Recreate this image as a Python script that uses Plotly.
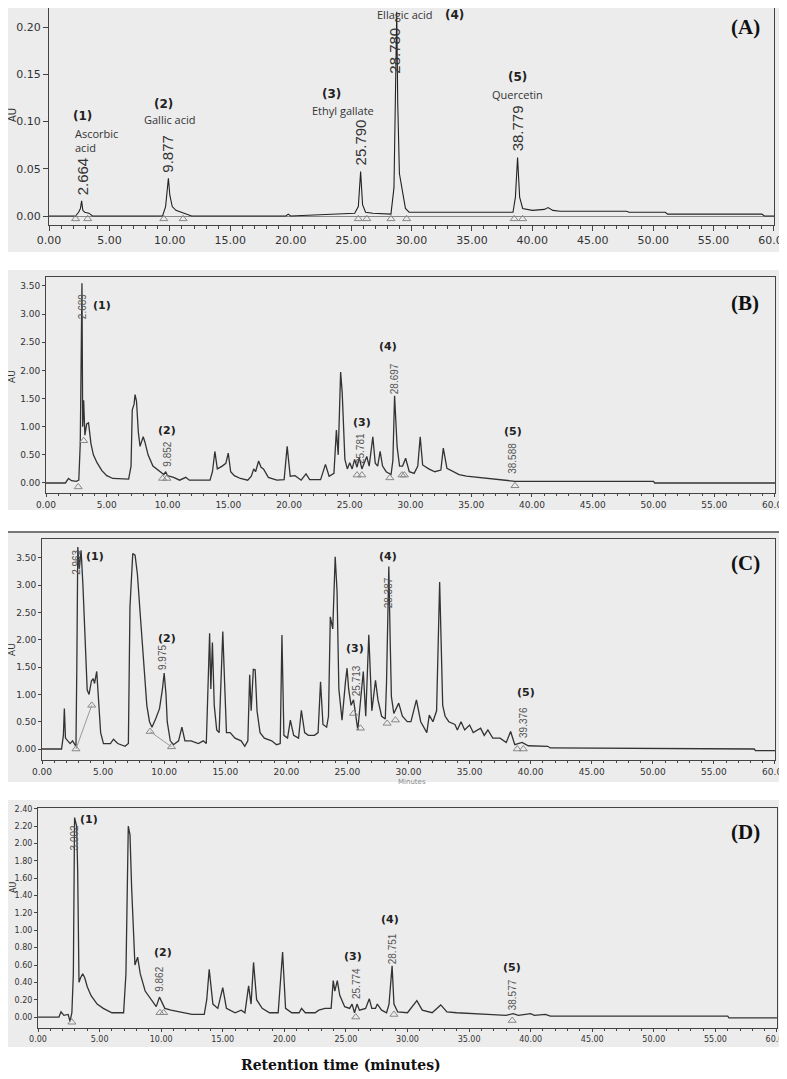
import plotly.graph_objects as go

# ---- data (time in min, absorbance in AU) ----
compounds = ["Ascorbic acid", "Gallic acid", "Ethyl gallate", "Ellagic acid", "Quercetin"]
peak_ids = ["(1)", "(2)", "(3)", "(4)", "(5)"]

a_time = [0, 2.2, 2.45, 2.6, 2.7, 2.8, 2.95, 3.3, 3.6, 9.4, 9.65, 9.8, 9.88, 10.0, 10.2, 10.5,
          11.0, 11.5, 11.8, 19.6, 19.8, 20.0, 23.0, 25.3, 25.6, 25.79, 25.95, 26.2, 26.8, 28.3,
          28.55, 28.7, 28.78, 28.86, 29.0, 29.2, 29.5, 29.8, 38.4, 38.6, 38.779, 38.95, 39.2,
          40.0, 41.0, 41.3, 41.7, 42.3, 47.8, 48.0, 51.0, 51.2, 59.0, 59.2, 60]
a_au = [0.0, 0.0, 0.004, 0.008, 0.016, 0.006, 0.004, 0.003, 0.0, 0.0, 0.01, 0.03, 0.040, 0.022,
        0.01, 0.006, 0.004, 0.002, 0.0, 0.0, 0.002, 0.0, 0.002, 0.003, 0.01, 0.047, 0.012, 0.004,
        0.003, 0.002, 0.03, 0.15, 0.216, 0.12, 0.045, 0.03, 0.008, 0.004, 0.004, 0.02, 0.062,
        0.02, 0.008, 0.006, 0.007, 0.009, 0.006, 0.005, 0.005, 0.004, 0.004, 0.002, 0.002, 0.0, 0.0]
a_tri_time = [2.2, 3.2, 9.5, 11.1, 25.6, 26.3, 28.3, 29.6, 38.5, 39.2]
a_tri_au = [-0.003] * 10
a_rt = ["2.664", "9.877", "25.790", "28.780", "38.779"]

b_time = [0, 1.6, 1.85, 2.1, 2.5, 2.7, 2.82, 2.9, 2.96, 3.02, 3.1, 3.2, 3.35, 3.5, 3.7, 3.9, 4.2,
          4.6, 5.0, 5.5, 6.8, 7.0, 7.1, 7.25, 7.33, 7.45, 7.6, 7.74, 7.9, 8.0, 8.15, 8.4, 8.8, 9.4,
          9.7, 9.85, 10.0, 10.5, 11.0, 11.5, 11.8, 13.5, 13.7, 13.9, 14.1, 14.5, 14.8, 15.0, 15.2,
          15.5, 16.0, 16.6, 16.9, 17.1, 17.25, 17.5, 17.7, 17.9, 18.3, 19.0, 19.6, 19.85, 20.1,
          20.5, 21.0, 21.4, 21.7, 22.6, 23.0, 23.3, 23.7, 23.9, 24.05, 24.25, 24.38, 24.6, 24.8,
          25.0, 25.2, 25.4, 25.6, 25.78, 26.0, 26.4, 26.6, 26.9, 27.1, 27.3, 27.5, 27.7, 28.0,
          28.4, 28.55, 28.69, 28.8, 28.9, 29.1, 29.35, 29.6, 29.9, 30.3, 30.6, 30.8, 31.0, 31.5,
          32.0, 32.5, 32.7, 33.0, 33.5, 34.0, 34.6, 35.5, 36.0, 37.0, 38.0, 38.6, 39.0, 50.0,
          50.1, 60]
b_au = [0.0, 0.0, 0.08, 0.04, 0.03, 0.05, 0.7, 3.5, 3.55, 1.0, 1.47, 0.85, 1.05, 1.07, 0.7, 0.5,
        0.36, 0.22, 0.13, 0.08, 0.07, 0.3, 1.3, 1.4, 1.57, 1.45, 0.9, 0.65, 0.78, 0.82, 0.72, 0.5,
        0.3, 0.2, 0.15, 0.2, 0.13, 0.1, 0.05, 0.1, 0.05, 0.05, 0.2, 0.56, 0.25, 0.3, 0.35, 0.53,
        0.2, 0.13, 0.08, 0.05, 0.12, 0.25, 0.2, 0.39, 0.28, 0.25, 0.1, 0.05, 0.06, 0.65, 0.12,
        0.13, 0.05, 0.16, 0.06, 0.06, 0.33, 0.12, 0.17, 0.94, 0.5, 1.97, 1.6, 0.42, 0.25, 0.36,
        0.25, 0.42, 0.28, 0.45, 0.25, 0.47, 0.3, 0.82, 0.35, 0.3, 0.56, 0.3, 0.2, 0.15, 0.4, 1.55,
        1.0, 0.64, 0.3, 0.3, 0.44, 0.2, 0.17, 0.3, 0.82, 0.32, 0.25, 0.2, 0.23, 0.62, 0.26, 0.2,
        0.15, 0.12, 0.1, 0.08, 0.07, 0.04, 0.03, 0.03, 0.03, 0.0, 0.0]
b_tri_time = [2.65, 3.1, 9.6, 9.95, 25.6, 26.0, 28.3, 29.3, 29.5, 38.6]
b_tri_au = [-0.07, 0.75, 0.08, 0.08, 0.14, 0.14, 0.09, 0.14, 0.14, -0.05]
b_rt = ["2.689", "9.852", "25.781", "28.697", "38.588"]

c_time = [0, 1.6, 1.75, 1.83, 1.92, 2.1, 2.3, 2.5, 2.65, 2.78, 2.85, 2.93, 3.05, 3.2, 3.35, 3.52,
          3.7, 3.85, 4.05, 4.2, 4.3, 4.48, 4.67, 4.8, 5.03, 5.6, 5.85, 6.2, 6.8, 7.07, 7.2, 7.43,
          7.62, 7.81, 8.03, 8.3, 8.58, 8.8, 9.0, 9.3, 9.62, 9.86, 10.0, 10.15, 10.25, 10.5, 10.77,
          11.18, 11.45, 11.7, 12.2, 12.8, 13.2, 13.45, 13.6, 13.72, 13.82, 13.95, 14.1, 14.3, 14.5,
          14.65, 14.8, 14.95, 15.1, 15.4, 15.8, 16.3, 16.6, 16.85, 17.0, 17.12, 17.3, 17.45, 17.6,
          17.85, 18.2, 18.8, 19.2, 19.5, 19.64, 19.8, 20.1, 20.33, 20.6, 21.0, 21.23, 21.5, 21.8,
          22.3, 22.6, 22.8, 23.0, 23.3, 23.45, 23.6, 23.8, 24.0, 24.15, 24.3, 24.56, 24.84, 24.97,
          25.1, 25.3, 25.5, 25.7, 25.85, 26.3, 26.5, 26.75, 27.0, 27.3, 27.5, 27.8, 28.1, 28.2,
          28.39, 28.5, 28.6, 28.8, 29.2, 29.5, 29.9, 30.2, 30.65, 31.0, 31.5, 31.7, 32.0, 32.3,
          32.55, 32.8, 33.0, 33.3, 33.8, 34.0, 34.3, 34.6, 35.0, 35.3, 35.9, 36.2, 36.5, 36.9,
          37.5, 38.0, 38.36, 38.7, 39.3, 39.8, 41.4, 41.6, 58.3, 58.4, 60]
c_au = [0.0, 0.0, 0.25, 0.74, 0.2, 0.15, 0.1, 0.15, 0.1, 0.05, 1.5, 3.7, 3.3, 3.64, 3.0, 2.18,
        1.08, 1.0, 1.25, 1.29, 1.2, 1.42, 0.8, 0.3, 0.1, 0.1, 0.18, 0.1, 0.05, 0.1, 2.6, 3.58,
        3.55, 3.2, 2.5, 1.63, 0.8, 0.5, 0.4, 0.55, 0.74, 1.1, 1.39, 1.0, 0.5, 0.15, 0.08, 0.15,
        0.4, 0.15, 0.15, 0.1, 0.15, 0.1, 1.1, 2.12, 1.1, 1.95, 0.8, 0.35, 0.3, 1.2, 2.15, 1.2,
        0.3, 0.3, 0.2, 0.15, 0.05, 0.15, 1.36, 0.7, 1.46, 1.45, 0.7, 0.3, 0.2, 0.15, 0.08, 0.1,
        2.09, 0.25, 0.2, 0.53, 0.25, 0.2, 0.71, 0.3, 0.25, 0.25, 0.3, 1.23, 0.45, 0.4, 0.6, 2.42,
        2.2, 3.52, 2.9, 1.1, 0.53, 1.23, 1.48, 1.1, 0.8, 0.9, 0.55, 0.35, 1.42, 0.6, 2.09, 0.7,
        1.26, 0.9, 0.6, 0.55, 1.2, 3.34, 2.0, 0.96, 0.65, 0.84, 0.6, 0.5, 0.5, 0.9, 0.5, 0.3,
        0.62, 0.5, 0.7, 3.06, 0.8, 0.6, 0.5, 0.45, 0.35, 0.5, 0.35, 0.44, 0.3, 0.38, 0.25, 0.35,
        0.2, 0.2, 0.12, 0.32, 0.08, 0.12, 0.06, 0.05, 0.02, 0.0, -0.03, -0.03]
c_drop_time = [[2.78, 4.07], [8.85, 10.6]]
c_drop_au = [[0.0, 0.8], [0.32, 0.04]]
c_tri_time = [2.78, 4.07, 8.85, 10.6, 25.5, 26.07, 28.25, 28.93, 38.9, 39.4]
c_tri_au = [0.0, 0.8, 0.32, 0.04, 0.65, 0.38, 0.47, 0.53, 0.0, 0.0]
c_rt = ["2.963", "9.975", "25.713", "28.387", "39.376"]

d_time = [0, 1.7, 1.87, 2.1, 2.45, 2.6, 2.75, 2.87, 2.97, 3.08, 3.14, 3.22, 3.33, 3.45, 3.63, 3.8,
          4.0, 4.3, 4.8, 5.3, 6.0, 6.95, 7.14, 7.33, 7.47, 7.6, 7.75, 7.87, 8.09, 8.3, 8.7, 9.2,
          9.6, 9.86, 10.3, 10.8, 11.5, 11.7, 12.5, 13.5, 13.7, 13.9, 14.2, 14.6, 15.0, 15.3, 16.0,
          16.5, 16.8, 17.1, 17.3, 17.5, 17.75, 18.2, 18.8, 19.5, 19.86, 20.1, 20.6, 21.2, 21.4,
          21.7, 22.5, 22.8, 23.3, 23.8, 23.97, 24.1, 24.3, 24.5, 24.9, 25.3, 25.5, 25.7, 25.9,
          26.1, 26.6, 26.9, 27.1, 27.4, 27.55, 27.9, 28.3, 28.5, 28.75, 28.9, 29.2, 30.0, 30.76,
          31.2, 32.0, 32.7, 33.2, 34.0, 35.0, 36.5, 38.0, 38.58, 39.0, 40.0, 40.3, 41.2, 41.6,
          56.0, 56.1, 60]
d_au = [0.0, 0.0, 0.06, 0.02, 0.03, -0.05, 0.05, 0.5, 2.3, 2.25, 2.2, 1.69, 0.4, 0.45, 0.5, 0.45,
        0.35, 0.25, 0.15, 0.1, 0.05, 0.05, 0.5, 2.2, 2.1, 1.5, 0.9, 0.6, 0.69, 0.5, 0.3, 0.2,
        0.12, 0.23, 0.1, 0.08, 0.06, 0.05, 0.03, 0.03, 0.2, 0.55, 0.15, 0.1, 0.34, 0.1, 0.05,
        0.08, 0.05, 0.36, 0.15, 0.63, 0.2, 0.1, 0.05, 0.05, 0.75, 0.1, 0.05, 0.05, 0.1, 0.05,
        0.05, 0.08, 0.1, 0.1, 0.42, 0.3, 0.42, 0.25, 0.12, 0.1, 0.15, 0.05, 0.15, 0.08, 0.1,
        0.21, 0.1, 0.1, 0.15, 0.08, 0.05, 0.15, 0.59, 0.15, 0.06, 0.05, 0.19, 0.08, 0.05, 0.14,
        0.06, 0.05, 0.04, 0.03, 0.02, 0.04, 0.02, 0.04, 0.02, 0.03, 0.01, 0.01, -0.01, -0.01]
d_tri_time = [2.75, 9.9, 10.2, 25.8, 28.9, 38.5]
d_tri_au = [-0.06, 0.05, 0.05, 0.0, 0.03, -0.04]
d_rt = ["3.002", "9.862", "25.774", "28.751", "38.577"]

# ---- layout helpers (pixel positions of the original picture) ----
# the page body adds an 8px offset, so the figure is drawn that much smaller
OFF = 8
W, H = 787 - OFF, 1079 - OFF
def fx(p):
    return min(max((p - OFF) / W, 0), 1)
def fy(p):
    return min(max(1 - (p - OFF) / H, 0), 1)
def sx(p):
    return (p - OFF) / W
def sy(p):
    return 1 - (p - OFF) / H

panels = [
    dict(name="(A)", t=a_time, au=a_au, tt=a_tri_time, ta=a_tri_au, rt=a_rt,
         px=(49, 774), py=(8, 225), yr=(-0.0095, 0.2201), dtick=0.05, tick_size=11,
         ticklen=(5, 3), bg=(0, 0, 787, 252), letter_y=27, au_y=115, au_x=13, au_size=10,
         rt_pos=[(2.73, 0.042), (9.85, 0.066), (25.75, 0.078), (28.64, 0.175), (38.75, 0.093)],
         id_pos=[(2.8, 0.106), (9.44, 0.119), (23.4, 0.129), (33.6, 0.213), (38.75, 0.147)]),
    dict(name="(B)", t=b_time, au=b_au, tt=b_tri_time, ta=b_tri_au, rt=b_rt,
         px=(46, 775), py=(277, 493), yr=(-0.178, 3.659), dtick=0.5, tick_size=9,
         ticklen=(3, 2), bg=(6, 270, 787, 510), letter_y=303, au_y=377, au_x=12, au_size=9,
         rt_pos=[(2.96, 3.14), (10.04, 0.52), (25.84, 0.62), (28.64, 1.86), (38.44, 0.43)],
         id_pos=[(4.6, 3.16), (9.96, 0.94), (26.0, 1.08), (28.15, 2.42), (38.4, 0.92)]),
    dict(name="(C)", t=c_time, au=c_au, tt=c_tri_time, ta=c_tri_au, rt=c_rt,
         px=(42, 775), py=(539, 760), yr=(-0.201, 3.846), dtick=0.5, tick_size=9,
         ticklen=(3, 2), bg=(0, 532, 787, 782), letter_y=563, au_y=650, au_x=12, au_size=9,
         rt_pos=[(2.87, 3.41), (9.92, 1.67), (25.74, 1.25), (28.36, 2.86), (39.43, 0.49)],
         id_pos=[(4.34, 3.52), (10.25, 2.03), (25.66, 1.85), (28.36, 3.52), (39.6, 1.03)]),
    dict(name="(D)", t=d_time, au=d_au, tt=d_tri_time, ta=d_tri_au, rt=d_rt,
         px=(38, 777), py=(808, 1028), yr=(-0.126, 2.41), dtick=0.2, tick_size=8,
         ticklen=(3, 2), bg=(5, 800, 787, 1047), letter_y=832, au_y=888, au_x=13, au_size=8,
         rt_pos=[(3.0, 2.07), (9.9, 0.44), (25.8, 0.39), (28.8, 0.79), (38.55, 0.26)],
         id_pos=[(4.14, 2.28), (10.15, 0.74), (25.57, 0.70), (28.57, 1.13), (38.47, 0.57)]),
]

fig = go.Figure()
shapes = []
annotations = []
axes = {}

for i, p in enumerate(panels):
    n = i + 1
    xs = "x" if n == 1 else "x%d" % n
    ys = "y" if n == 1 else "y%d" % n
    big = n == 1

    fig.add_trace(go.Scatter(x=p["t"], y=p["au"], mode="lines", xaxis=xs, yaxis=ys,
                             line=dict(color="#222" if big else "#333",
                                       width=1.1 if big else 1.3), showlegend=False))
    fig.add_trace(go.Scatter(x=p["tt"], y=p["ta"], mode="markers", xaxis=xs, yaxis=ys,
                             marker=dict(symbol="triangle-up-open", size=7, color="#888",
                                         line=dict(width=1)), showlegend=False))

    major, minor = p["ticklen"]
    axes["xaxis" if n == 1 else "xaxis%d" % n] = dict(
        domain=[fx(p["px"][0]), fx(p["px"][1])], anchor=ys, range=[0, 60.001],
        dtick=5, tick0=0, tickformat=".2f", ticks="outside", ticklen=major, tickcolor="#444",
        showline=True, mirror=True, linecolor="#444", linewidth=1, showgrid=False,
        zeroline=False, automargin=False, ticklabeloverflow="allow",
        tickfont=dict(family="DejaVu Sans", size=p["tick_size"], color="#333"),
        minor=dict(dtick=1, ticks="outside", ticklen=minor, tickcolor="#444"))
    axes["yaxis" if n == 1 else "yaxis%d" % n] = dict(
        domain=[fy(p["py"][1]), fy(p["py"][0])], anchor=xs, range=list(p["yr"]),
        dtick=p["dtick"], tick0=0, tickformat=".2f", ticks="outside", ticklen=major,
        tickcolor="#444", showline=True, mirror=True, linecolor="#444", linewidth=1,
        showgrid=False, automargin=False,
        zeroline=big, zerolinecolor="#888", zerolinewidth=1,
        tickfont=dict(family="DejaVu Sans", size=p["tick_size"], color="#333"))

    x0, y0, x1, y1 = p["bg"]
    shapes.append(dict(type="rect", xref="paper", yref="paper", x0=sx(x0), x1=sx(x1),
                       y0=sy(y1), y1=sy(y0), fillcolor="#ececec", line=dict(width=0),
                       layer="below"))

    annotations.append(dict(text="<b>%s</b>" % p["name"], xref="paper", yref="paper",
                            x=sx(745), y=sy(p["letter_y"]), xanchor="center",
                            yanchor="middle", showarrow=False,
                            font=dict(family="Liberation Serif", size=21, color="#111")))
    annotations.append(dict(text="AU", xref="paper", yref="paper", x=sx(p["au_x"]),
                            y=sy(p["au_y"]), xanchor="center", yanchor="middle",
                            textangle=-90, showarrow=False,
                            font=dict(family="DejaVu Sans", size=p["au_size"], color="#333")))

    for k in range(5):
        rx, ry = p["rt_pos"][k]
        annotations.append(dict(text=p["rt"][k], xref=xs, yref=ys, x=rx, y=ry, textangle=-90,
                                xanchor="center", yanchor="middle", showarrow=False,
                                font=dict(family="Liberation Sans", size=15 if big else 10,
                                          color="#333" if big else "#555")))
        ix, iy = p["id_pos"][k]
        annotations.append(dict(text="<b>%s</b>" % peak_ids[k], xref=xs, yref=ys, x=ix, y=iy,
                                xanchor="center", yanchor="middle", showarrow=False,
                                font=dict(family="DejaVu Sans", size=12 if big else 11,
                                          color="#222")))

# drop lines of the integration baseline in panel C
for dt, da in zip(c_drop_time, c_drop_au):
    fig.add_trace(go.Scatter(x=dt, y=da, mode="lines", xaxis="x3", yaxis="y3",
                             line=dict(color="#999", width=1), showlegend=False))

# compound names on the standard chromatogram (A)
name_pos = [(2.0, 0.080, "left"), (10.0, 0.102, "center"), (24.3, 0.112, "center"),
            (29.5, 0.213, "center"), (38.8, 0.129, "center")]
name_text = ["Ascorbic<br>acid"] + compounds[1:]
for (nx, ny, anchor), txt in zip(name_pos, name_text):
    annotations.append(dict(text=txt, xref="x", yref="y", x=nx, y=ny, xanchor=anchor,
                            yanchor="middle", align="left", showarrow=False,
                            font=dict(family="Open Sans", size=11, color="#333")))

shapes.append(dict(type="line", xref="paper", yref="paper", x0=sx(0), x1=sx(787),
                   y0=sy(532), y1=sy(532), line=dict(color="#777", width=2)))

annotations.append(dict(text="Minutes", xref="paper", yref="paper", x=sx(412), y=sy(782),
                        xanchor="center", yanchor="middle", showarrow=False,
                        font=dict(family="DejaVu Sans", size=7, color="#888")))
annotations.append(dict(text="<b>Retention time (minutes)</b>", xref="paper", yref="paper",
                        x=sx(341), y=sy(1065), xanchor="center", yanchor="middle",
                        showarrow=False,
                        font=dict(family="DejaVu Serif", size=14, color="#111")))

fig.update_layout(width=W, height=H, margin=dict(l=0, r=0, t=0, b=0),
                  paper_bgcolor="white", plot_bgcolor="rgba(0,0,0,0)",
                  shapes=shapes, annotations=annotations, **axes)

fig.write_html("out.html")
